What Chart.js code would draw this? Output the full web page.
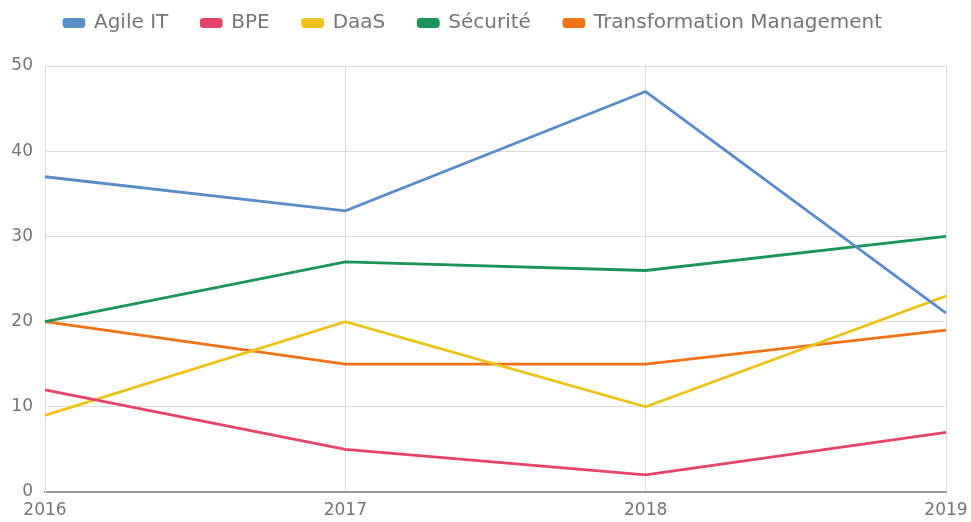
<!DOCTYPE html>
<html>
<head>
<meta charset="utf-8">
<script src="https://cdn.jsdelivr.net/npm/chart.js@4/dist/chart.umd.min.js"></script>
<style>
  html, body { margin: 0; padding: 0; background: #ffffff; }
  #wrap { width: 971px; height: 522px; }
</style>
</head>
<body>
<div id="wrap"><canvas id="c" width="971" height="522"></canvas></div>
<script>
const categories = ['2016', '2017', '2018', '2019'];
const seriesNames = ['Agile IT', 'BPE', 'DaaS', 'Sécurité', 'Transformation Management'];
const agileIT = [37, 33, 47, 21];
const bpe = [12, 5, 2, 7];
const daas = [9, 20, 10, 23];
const securite = [20, 27, 26, 30];
const transformation = [20, 15, 15, 19];
const seriesColors = ['#5b8cca', '#e6436a', '#ecc21a', '#1b9459', '#f07318'];
const yTicks = [0, 10, 20, 30, 40, 50];

const allValues = [agileIT, bpe, daas, securite, transformation];

const legendFit = {
  id: 'legendFit',
  beforeInit(chart) {
    const lg = chart.legend;
    if (lg) {
      const orig = lg.fit;
      lg.fit = function () {
        orig.call(this);
        this.height = 86;
      };
    }
  }
};

new Chart(document.getElementById('c'), {
  type: 'line',
  data: {
    labels: categories,
    datasets: seriesNames.map((name, i) => ({
      label: name,
      data: allValues[i],
      borderColor: seriesColors[i],
      backgroundColor: seriesColors[i],
      borderWidth: 2.8,
      pointRadius: 0,
      tension: 0,
      fill: false
    }))
  },
  options: {
    responsive: false,
    animation: false,
    devicePixelRatio: 1,
    layout: { padding: { top: -20, right: 25, left: 0, bottom: 0 } },
    plugins: {
      legend: {
        position: 'top',
        labels: {
          boxWidth: 20,
          boxHeight: 7,
          padding: 33,
          color: '#757575',
          useBorderRadius: true,
          borderRadius: 2,
          font: { family: 'DejaVu Sans', size: 20 }
        }
      },
      tooltip: { enabled: false }
    },
    scales: {
      x: {
        offset: false,
        grid: { color: '#dcdcdc', lineWidth: 1, drawTicks: false },
        border: { color: '#9a9a9a', width: 2 },
        ticks: {
          color: '#757575',
          padding: 8,
          maxRotation: 0,
          font: { family: 'DejaVu Sans', size: 17 }
        },
        afterFit(scale) { scale.height = 30; scale.paddingRight = 0; scale.paddingLeft = 0; }
      },
      y: {
        min: 0,
        max: 50,
        afterBuildTicks(scale) { scale.ticks = yTicks.map(v => ({ value: v })); },
        grid: { color: '#dcdcdc', lineWidth: 1, drawTicks: false },
        border: { color: '#dcdcdc', width: 1 },
        ticks: {
          color: '#757575',
          padding: 12,
          font: { family: 'DejaVu Sans', size: 17 }
        },
        afterFit(scale) { scale.width = 45; }
      }
    }
  },
  plugins: [legendFit]
});
</script>
</body>
</html>
